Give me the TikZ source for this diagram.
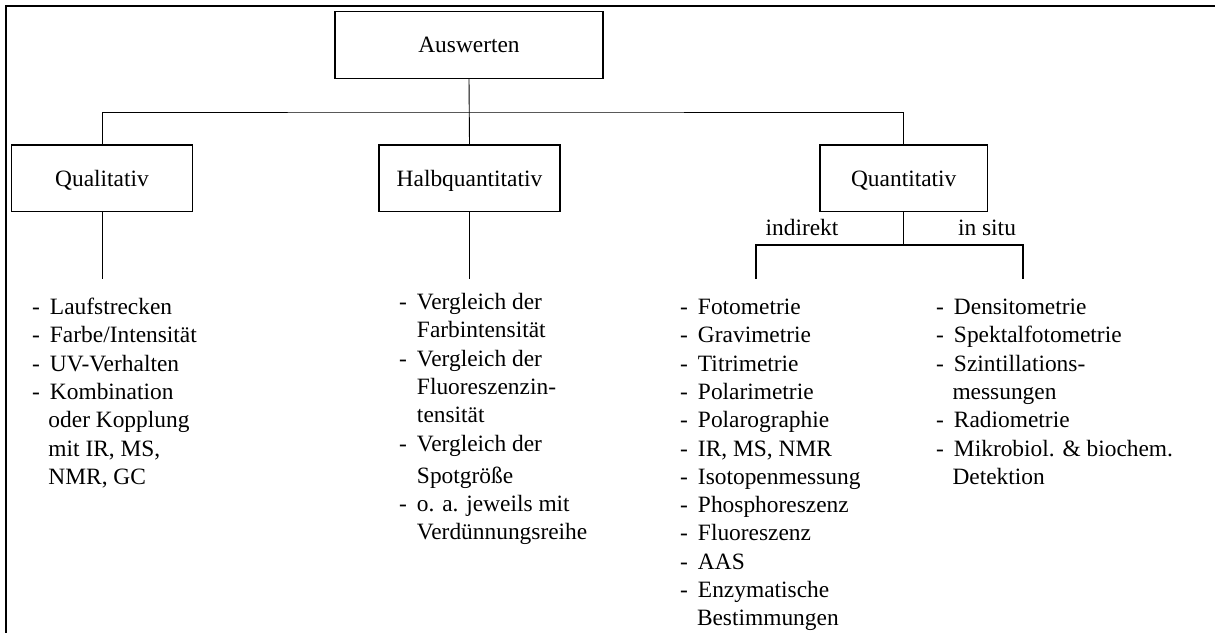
\documentclass[tikz,border=0pt]{standalone}
\usepackage{fontspec}
\setmainfont{Liberation Serif}
\begin{document}
\begin{tikzpicture}[x=1pt,y=-1pt,
  txt/.style={font=\fontsize{23.4}{28.3}\selectfont},
  box/.style={txt, draw, line width=1.2pt, minimum height=66.7pt, inner sep=0pt, text height=15.6pt, text depth=0pt},
  conn/.style={line width=0.9pt},
  connq/.style={line width=1.3pt},
  frame/.style={line width=2.3pt},
  lst/.style={txt, anchor=base west, inner sep=0pt},
  lbl/.style={txt, anchor=base, inner sep=0pt}]
\useasboundingbox (0,0) rectangle (1215,632);
% frame
\coordinate (ftl) at (6.2,6.2);
\coordinate (ftr) at (1216,6.2);
\coordinate (fbl) at (6.2,633);
\draw[frame] (ftr) -- (ftl) -- (fbl);
% boxes
\node[box, minimum width=268pt] (aus) at (469,45) {Auswerten};
\node[box, minimum width=180.6pt] (qual) at (102,178.3) {Qualitativ};
\node[box, minimum width=181pt] (halb) at (469.5,178.3) {Halbquantitativ};
\node[box, minimum width=167.3pt] (quant) at (903.7,178.3) {Quantitativ};
% connectors top
\coordinate (bus) at (469,112);
\draw[conn] (aus.south) -- (halb.north);
\draw[conn] (qual.north) |- (bus) -| (quant.north);
% down lines
\coordinate (qend) at (102,279);
\coordinate (hend) at (469.5,279);
\draw[conn] (qual.south) -- (qend);
\draw[conn] (halb.south) -- (hend);
\coordinate (split) at (903.7,245);
\coordinate (indend) at (756,279);
\coordinate (situend) at (1023,279);
\draw[connq] (quant.south) -- (split);
\draw[connq] (indend) |- (split) -| (situend);
% labels
\node[lbl] (lind) at (802,235) {indirekt};
\node[lbl] (lsitu) at (987,235) {in situ};
% lists
\node[lst] (lq) at (32,314.5) {\begin{tabular}[t]{@{}l@{\hspace{10pt}}l@{}}
-&Laufstrecken\\
-&Farbe/Intensität\\
-&UV-Verhalten\\
-&Kombination\\
&\hspace{-1.5pt}oder Kopplung\\
&\hspace{-1.5pt}mit IR, MS,\\
&\hspace{-1.5pt}NMR, GC
\end{tabular}};
\node[lst] (lh) at (399,309.5) {\begin{tabular}[t]{@{}l@{\hspace{10pt}}l@{}}
-&Vergleich der\\
&Farbintensität\\
-&Vergleich der\\
&Fluoreszenzin-\\
&tensität\\
-&Vergleich der\\[4pt]
&Spotgröße\\
-&o. a. jeweils mit\\
&Verdünnungsreihe
\end{tabular}};
\node[lst] (li) at (680,314.5) {\begin{tabular}[t]{@{}l@{\hspace{10pt}}l@{}}
-&Fotometrie\\
-&Gravimetrie\\
-&Titrimetrie\\
-&Polarimetrie\\
-&Polarographie\\
-&IR, MS, NMR\\
-&Isotopenmessung\\
-&Phosphoreszenz\\
-&Fluoreszenz\\
-&AAS\\
-&Enzymatische\\
&\hspace{-1pt}Bestimmungen
\end{tabular}};
\node[lst] (ls) at (936,314.5) {\begin{tabular}[t]{@{}l@{\hspace{10pt}}l@{}}
-&Densitometrie\\
-&Spektalfotometrie\\
-&Szintillations-\\
&\hspace{-1.5pt}messungen\\
-&Radiometrie\\
-&Mikrobiol. \& biochem.\\
&\hspace{-1.5pt}Detektion
\end{tabular}};
\end{tikzpicture}
\end{document}
